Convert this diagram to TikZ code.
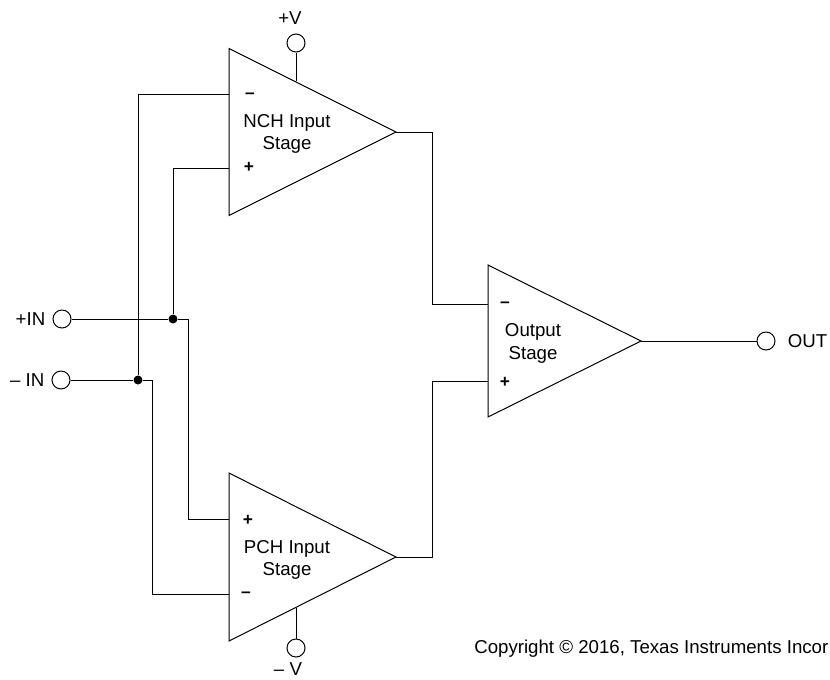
\documentclass[tikz,border=0pt]{standalone}
\usepackage{fontspec}
\setmainfont{Liberation Sans}
\tikzset{
 wire/.style={line width=0.75pt},
 amp/.style={line width=0.75pt},
 pin/.style={circle,draw,line width=0.75pt,minimum size=13.5pt,inner sep=0pt},
 lab/.style={font=\fontsize{14pt}{17pt}\selectfont,align=center,inner sep=0pt},
 sgn/.style={font=\fontsize{13pt}{13pt}\bfseries\selectfont,inner sep=0pt},
 dot/.style={circle,fill=black,minimum size=6.75pt,inner sep=0pt}
}
\begin{document}
\begin{tikzpicture}[x=0.75pt,y=-0.75pt]
 \useasboundingbox (0,0) rectangle (830,679);
 % amplifiers
 \draw[amp] (229,48.5) -- (396,132) -- (229,215.5) -- cycle;
 \draw[amp] (229,473) -- (396,557) -- (229,641) -- cycle;
 \draw[amp] (488,265) -- (641,341) -- (488,417) -- cycle;
 \node[lab] (nch) at (287,134) {NCH Input\\Stage};
 \node[lab] (pch) at (287,560) {PCH Input\\Stage};
 \node[lab] (outst) at (533,343.5) {Output\\Stage};
 % pins
 \node[pin] (vp) at (296,43) {};
 \node[pin] (vm) at (296,648) {};
 \node[pin] (inp) at (62,319) {};
 \node[pin] (inm) at (61,380) {};
 \node[pin] (out) at (766,341) {};
 \node[lab] (vplab) at (290,18) {+V};
 \node[lab] (vmlab) at (288,669) {– V};
 \node[lab,left=5.2pt] (inplab) at (inp.west) {+IN};
 \node[lab,left=5.2pt] (inmlab) at (inm.west) {– IN};
 \node[lab,right=9pt] (outlab) at (out.east) {OUT};
 % junctions
 \node[dot] (jp) at (173,319) {};
 \node[dot] (jm) at (138,380) {};
 % wires
 \draw[wire] (vp) -- (296,81);
 \draw[wire] (vm) -- (296,608);
 \draw[wire] (inp) -- (jp);
 \draw[wire] (inm) -- (jm);
 \draw[wire] (jm) |- (229,94);
 \draw[wire] (jp) |- (229,168);
 \draw[wire] (jp) -- (188,319) |- (229,519);
 \draw[wire] (jm) -- (152,380) |- (229,594);
 \draw[wire] (396,132) -- (432,132) |- (488,304);
 \draw[wire] (396,557) -- (432,557) |- (488,381);
 \draw[wire] (641,341) -- (out);
 % signs
 \node[sgn] (s1) at (250,96) {–};
 \node[sgn] (s2) at (249,167) {+};
 \node[sgn] (s3) at (248,520) {+};
 \node[sgn] (s4) at (246,595) {–};
 \node[sgn] (s5) at (505,305) {–};
 \node[sgn] (s6) at (505,382) {+};
 \node[lab,anchor=west] (copy) at (474,649) {Copyright © 2016, Texas Instruments Incor};
\end{tikzpicture}
\end{document}
